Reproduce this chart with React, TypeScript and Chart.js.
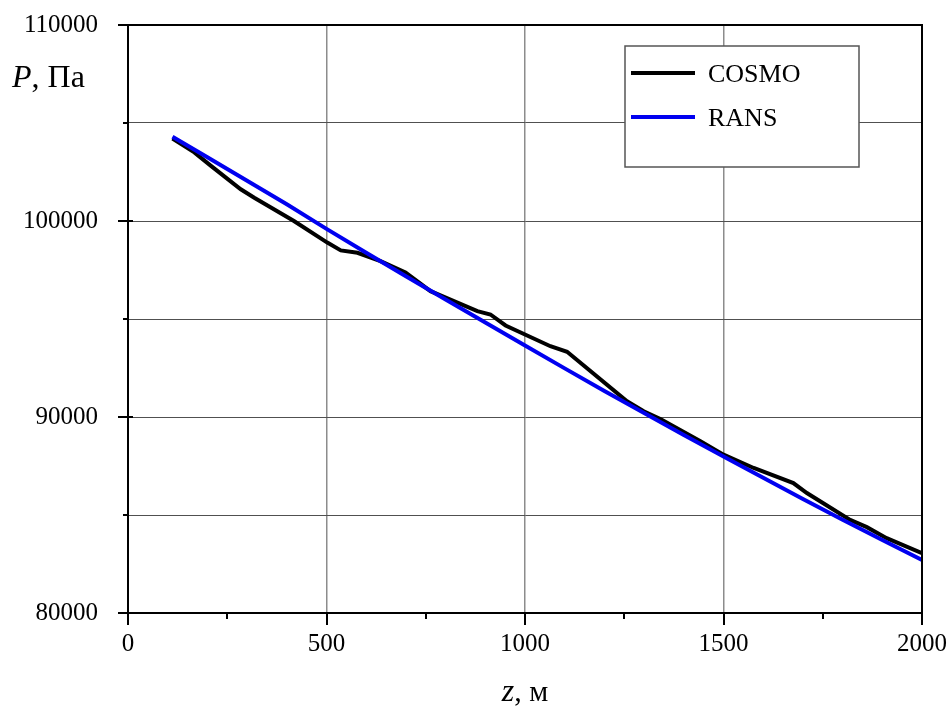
import React, { useEffect, useRef } from "react";
import { Chart, registerables } from "chart.js";

Chart.register(...registerables);

// ---- data ----
const cosmoZ = [112, 167, 209, 284, 318, 418, 502, 536, 578, 636, 699, 762, 880, 913, 951, 1064, 1106, 1257, 1299, 1341, 1442, 1500, 1576, 1676, 1710, 1819, 1861, 1911, 2000];
const cosmoP = [104200, 103500, 102810, 101620, 101190, 100000, 98900, 98500, 98380, 97950, 97370, 96420, 95400, 95230, 94670, 93610, 93330, 90800, 90290, 89900, 88760, 88080, 87400, 86630, 86120, 84750, 84380, 83820, 83050];

const ransZ = [112, 200, 300, 400, 500, 600, 700, 800, 900, 1000, 1100, 1200, 1300, 1400, 1500, 1600, 1700, 1800, 1900, 2000];
const ransP = [104300, 103250, 102050, 100850, 99600, 98380, 97180, 96000, 94820, 93650, 92480, 91330, 90200, 89080, 87990, 86900, 85820, 84760, 83720, 82700];

const seriesLabels = ["COSMO", "RANS"];
const seriesColors = ["#000000", "#0000f0"];

const xMin = 0;
const xMax = 2000;
const xStep = 250;
const xLabelStep = 500;
const yMin = 80000;
const yMax = 110000;
const yStep = 5000;
const yLabelStep = 10000;

const FONT = "'Liberation Serif', 'DejaVu Serif', serif";

const decorPlugin = {
  id: "decor",
  afterDraw(chart: any) {
    const { ctx, chartArea } = chart;
    const xs = chart.scales.x;
    const ys = chart.scales.y;
    const { left, right, top, bottom } = chartArea;
    ctx.save();
    // top and right borders
    ctx.strokeStyle = "#000";
    ctx.lineWidth = 2;
    ctx.beginPath();
    ctx.moveTo(left, top);
    ctx.lineTo(right, top);
    ctx.lineTo(right, bottom);
    ctx.stroke();
    // tick marks
    ctx.lineWidth = 2;
    for (let v = yMin; v <= yMax; v += yStep) {
      const y = Math.round(ys.getPixelForValue(v));
      const major = v % yLabelStep === 0;
      ctx.beginPath();
      ctx.moveTo(left - (major ? 10 : 5), y);
      ctx.lineTo(left + (major ? 5 : 0), y);
      ctx.stroke();
    }
    for (let v = xMin; v <= xMax; v += xStep) {
      const x = Math.round(xs.getPixelForValue(v));
      const major = v % xLabelStep === 0;
      ctx.beginPath();
      ctx.moveTo(x, bottom);
      ctx.lineTo(x, bottom + (major ? 12 : 6));
      ctx.stroke();
    }
    // axis titles
    ctx.fillStyle = "#000";
    ctx.textBaseline = "alphabetic";
    ctx.textAlign = "left";
    ctx.font = `italic 32px ${FONT}`;
    ctx.fillText("P", 12, 87);
    const w = ctx.measureText("P").width;
    ctx.font = `32px ${FONT}`;
    ctx.fillText(", Па", 12 + w, 87);

    ctx.font = `italic 32px ${FONT}`;
    const zw = ctx.measureText("z").width;
    ctx.font = `30px ${FONT}`;
    const rw = ctx.measureText(", м").width;
    const cx = (left + right) / 2;
    const sx = cx - (zw + rw) / 2;
    ctx.font = `italic 32px ${FONT}`;
    ctx.fillText("z", sx, 701);
    ctx.font = `30px ${FONT}`;
    ctx.fillText(", м", sx + zw, 701);

    // legend
    const bx = 625, by = 46, bw = 234, bh = 121;
    ctx.fillStyle = "#fff";
    ctx.fillRect(bx, by, bw, bh);
    ctx.strokeStyle = "#555";
    ctx.lineWidth = 1.5;
    ctx.strokeRect(bx, by, bw, bh);
    const rows = [73, 117];
    chart.data.datasets.forEach((ds: any, i: number) => {
      const y = rows[i];
      ctx.strokeStyle = ds.borderColor;
      ctx.lineWidth = 4;
      ctx.beginPath();
      ctx.moveTo(631, y);
      ctx.lineTo(695, y);
      ctx.stroke();
      ctx.fillStyle = "#000";
      ctx.font = `26px ${FONT}`;
      ctx.textBaseline = "middle";
      ctx.fillText(ds.label, 708, y + 2);
    });
    ctx.restore();
  },
};

export default function App() {
  const ref = useRef<HTMLCanvasElement | null>(null);
  useEffect(() => {
    if (!ref.current) return;
    const chart = new Chart(ref.current, {
      type: "line",
      data: {
        datasets: [
          {
            label: seriesLabels[0],
            data: cosmoZ.map((z, i) => ({ x: z, y: cosmoP[i] })),
            borderColor: seriesColors[0],
            backgroundColor: seriesColors[0],
            borderWidth: 4,
            pointRadius: 0,
            tension: 0,
            order: 2,
          },
          {
            label: seriesLabels[1],
            data: ransZ.map((z, i) => ({ x: z, y: ransP[i] })),
            borderColor: seriesColors[1],
            backgroundColor: seriesColors[1],
            borderWidth: 4,
            pointRadius: 0,
            tension: 0,
            order: 1,
          },
        ],
      },
      options: {
        animation: false,
        responsive: false,
        maintainAspectRatio: false,
        layout: { padding: { top: 25, right: 29, left: 0, bottom: 0 } },
        plugins: {
          legend: { display: false },
          tooltip: { enabled: false },
          title: { display: false },
        },
        scales: {
          x: {
            type: "linear",
            min: xMin,
            max: xMax,
            afterFit: (s: any) => {
              s.height = 94;
              s.paddingLeft = 0;
              s.paddingRight = 0;
            },
            ticks: {
              stepSize: xStep,
              autoSkip: false,
              maxRotation: 0,
              padding: 16,
              color: "#000",
              font: { family: FONT, size: 25 },
              callback: (v: any) => (Number(v) % xLabelStep === 0 ? String(v) : ""),
            },
            grid: {
              drawTicks: false,
              lineWidth: 1.5,
              color: (c: any) =>
                c.tick && c.tick.value % xLabelStep === 0 ? "#8c8c8c" : "rgba(0,0,0,0)",
            },
            border: { display: true, color: "#000", width: 2 },
          },
          y: {
            type: "linear",
            min: yMin,
            max: yMax,
            afterFit: (s: any) => {
              s.width = 128;
              s.paddingTop = 0;
              s.paddingBottom = 0;
            },
            ticks: {
              stepSize: yStep,
              autoSkip: false,
              padding: 30,
              color: "#000",
              font: { family: FONT, size: 25 },
              callback: (v: any) => (Number(v) % yLabelStep === 0 ? String(v) : ""),
            },
            grid: {
              drawTicks: false,
              lineWidth: 1,
              color: "#505050",
            },
            border: { display: true, color: "#000", width: 2 },
          },
        },
      },
      plugins: [decorPlugin],
    });
    return () => chart.destroy();
  }, []);
  return (
    <div style={{ position: "fixed", left: 0, top: 0, width: 951, height: 707, background: "#fff" }}>
      <canvas ref={ref} width={951} height={707} style={{ width: 951, height: 707 }} />
    </div>
  );
}
